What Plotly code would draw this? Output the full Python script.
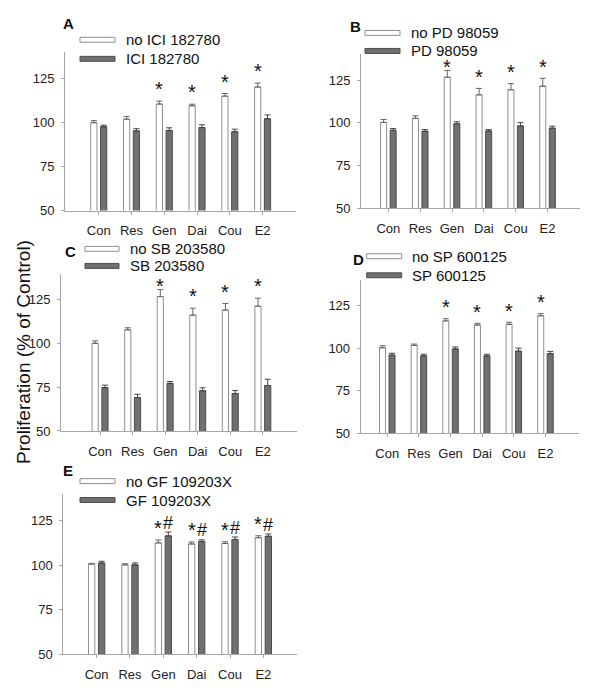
import plotly.graph_objects as go

categories = ["Con", "Res", "Gen", "Dai", "Cou", "E2"]
y_ticks = [50, 75, 100, 125]

# Panel A
A_labels = ["no ICI 182780", "ICI 182780"]
A_no = [100.0, 102.0, 110.6, 109.6, 115.1, 120.3]
A_no_err = [1.2, 1.5, 1.7, 0.9, 1.5, 2.2]
A_yes = [97.7, 95.3, 95.6, 97.2, 94.8, 102.2]
A_yes_err = [0.9, 1.3, 1.5, 1.6, 1.5, 2.2]

# Panel B
B_labels = ["no PD 98059", "PD 98059"]
B_no = [100.2, 102.6, 126.6, 116.3, 119.3, 121.4]
B_no_err = [1.7, 1.5, 4.0, 3.8, 3.6, 4.6]
B_yes = [95.6, 95.0, 99.4, 95.2, 98.1, 96.8]
B_yes_err = [1.0, 1.0, 1.2, 0.8, 2.0, 1.2]

# Panel C
C_labels = ["no SB 203580", "SB 203580"]
C_no = [100.1, 107.8, 126.8, 116.2, 119.1, 121.3]
C_no_err = [1.4, 1.2, 4.0, 4.0, 3.8, 4.6]
C_yes = [74.8, 69.1, 77.2, 73.0, 71.4, 76.0]
C_yes_err = [1.4, 1.9, 1.1, 1.7, 1.7, 3.6]

# Panel D
D_labels = ["no SP 600125", "SP 600125"]
D_no = [100.2, 101.6, 116.0, 113.6, 114.0, 119.0]
D_no_err = [1.2, 0.8, 1.3, 1.0, 1.2, 1.3]
D_yes = [95.9, 95.4, 99.5, 95.4, 98.2, 96.8]
D_yes_err = [1.1, 1.0, 1.2, 1.0, 1.8, 1.3]

# Panel E
E_labels = ["no GF 109203X", "GF 109203X"]
E_no = [100.6, 100.1, 112.4, 111.8, 112.1, 115.3]
E_no_err = [0.3, 0.6, 1.6, 1.1, 0.9, 1.1]
E_yes = [101.1, 100.1, 116.3, 113.2, 114.3, 116.1]
E_yes_err = [1.0, 1.1, 2.2, 0.9, 1.4, 1.3]

# significance markers (1 = marked)
sig_star = [0, 0, 1, 1, 1, 1]
sig_hash_E = [0, 0, 1, 1, 1, 1]

W, H = 600, 698
FONT = "Liberation Sans, Arial, sans-serif"
GRAY_FILL = "#707070"
GRAY_LINE = "#4d4d4d"
WHITE_LINE = "#8f8f8f"
AXIS_COL = "#a6a6a6"


def px_x(v):
    return v / W


def px_y(v):
    return 1 - v / H


# panel geometry in page pixels
panels = [
    dict(key="A", no=A_no, no_err=A_no_err, yes=A_yes, yes_err=A_yes_err, labels=A_labels,
         box=(65, 296, 53, 213), xr=(-1.03, 6.02),
         letter=(68, 24), sw=(80, 115, 40.2, 59.5), tx=124),
    dict(key="B", no=B_no, no_err=B_no_err, yes=B_yes, yes_err=B_yes_err, labels=B_labels,
         box=(361, 580, 55, 210.7), xr=(-0.86, 6.02),
         letter=(355, 26.5), sw=(365, 400, 33.3, 51.5), tx=409),
    dict(key="C", no=C_no, no_err=C_no_err, yes=C_yes, yes_err=C_yes_err, labels=C_labels,
         box=(61, 296.7, 276.7, 436), xr=(-1.2, 6.04),
         letter=(70.5, 254.5), sw=(85, 119, 251.7, 269), tx=128),
    dict(key="D", no=D_no, no_err=D_no_err, yes=D_yes, yes_err=D_yes_err, labels=D_labels,
         box=(360.7, 579, 283.3, 438.3), xr=(-0.84, 6.06),
         letter=(358, 263), sw=(366.7, 401.7, 259.2, 278.5), tx=410),
    dict(key="E", no=E_no, no_err=E_no_err, yes=E_yes, yes_err=E_yes_err, labels=E_labels,
         box=(63.3, 296.7, 499.3, 662), xr=(-1.0, 6.0),
         letter=(67.5, 476), sw=(80, 115, 486.7, 505.8), tx=124),
]

BW = 0.19
OFF_NO = -0.245
OFF_YES = 0.055

fig = go.Figure()
annotations = []
shapes = []
idx = list(range(len(categories)))

for n, p in enumerate(panels, start=1):
    xa = "x" if n == 1 else f"x{n}"
    ya = "y" if n == 1 else f"y{n}"
    fig.add_trace(go.Bar(
        x=idx, y=p["no"], width=BW, offset=OFF_NO, xaxis=xa, yaxis=ya,
        marker=dict(color="white", line=dict(color=WHITE_LINE, width=1)),
        error_y=dict(type="data", array=p["no_err"], arrayminus=[0] * 6, symmetric=False,
                     color="#666666", thickness=1, width=3),
        name=p["labels"][0], showlegend=False))
    fig.add_trace(go.Bar(
        x=idx, y=p["yes"], width=BW, offset=OFF_YES, xaxis=xa, yaxis=ya,
        marker=dict(color=GRAY_FILL, line=dict(color=GRAY_LINE, width=1)),
        error_y=dict(type="data", array=p["yes_err"], arrayminus=[0] * 6, symmetric=False,
                     color="#444444", thickness=1, width=3),
        name=p["labels"][1], showlegend=False))

    x0, x1, yt, yb = p["box"]
    axis_common = dict(showgrid=False, zeroline=False, showline=True, linecolor=AXIS_COL,
                       linewidth=1, ticks="outside", ticklen=3, tickcolor=AXIS_COL,
                       tickfont=dict(family=FONT, size=13, color="#222222"))
    fig.update_layout(**{
        ("xaxis" if n == 1 else f"xaxis{n}"): dict(
            domain=[px_x(x0), px_x(x1)], anchor=ya, range=list(p["xr"]),
            tickvals=idx, ticktext=categories, ticklabelstandoff=5, **axis_common),
        ("yaxis" if n == 1 else f"yaxis{n}"): dict(
            domain=[px_y(yb), px_y(yt)], anchor=xa, range=[50, 140],
            tickvals=y_ticks, ticklabelstandoff=4, **axis_common),
    })

    # significance markers
    for i in idx:
        if sig_star[i]:
            top = p["no"][i] + p["no_err"][i]
            annotations.append(dict(
                x=i + OFF_NO + BW / 2, y=min(top + 8.5, 134.6), xref=xa, yref=ya,
                text="*", showarrow=False, yshift=-3,
                font=dict(family=FONT, size=20, color="#111111")))
        if p["key"] == "E" and sig_hash_E[i]:
            top = p["yes"][i] + p["yes_err"][i]
            annotations.append(dict(
                x=i + OFF_YES + BW / 2, y=top + 8.6, xref=xa, yref=ya,
                text="#", showarrow=False, yshift=-6,
                font=dict(family=FONT, size=18, color="#111111")))

    # panel letter
    lx, ly = p["letter"]
    annotations.append(dict(x=px_x(lx), y=px_y(ly), xref="paper", yref="paper",
                            xanchor="center", yanchor="middle",
                            text=f"<b>{p['key']}</b>", showarrow=False,
                            font=dict(family=FONT, size=15, color="#111111")))
    # legend (drawn)
    sx0, sx1, sy1, sy2 = p["sw"]
    shapes.append(dict(type="rect", xref="paper", yref="paper",
                       x0=px_x(sx0), x1=px_x(sx1), y0=px_y(sy1 + 2.5), y1=px_y(sy1 - 2.5),
                       fillcolor="white", line=dict(color=WHITE_LINE, width=1)))
    shapes.append(dict(type="rect", xref="paper", yref="paper",
                       x0=px_x(sx0), x1=px_x(sx1), y0=px_y(sy2 + 2.5), y1=px_y(sy2 - 2.5),
                       fillcolor=GRAY_FILL, line=dict(color=GRAY_LINE, width=1)))
    for lab, sy in zip(p["labels"], (sy1, sy2)):
        annotations.append(dict(x=px_x(p["tx"]), y=px_y(sy), xref="paper", yref="paper",
                                text=lab, showarrow=False, xanchor="left", yanchor="middle",
                                font=dict(family=FONT, size=15, color="#111111")))

# shared y-axis title
annotations.append(dict(x=px_x(24), y=px_y(356), xref="paper", yref="paper",
                        xanchor="center", yanchor="middle",
                        text="Proliferation (% of Control)", textangle=-90, showarrow=False,
                        font=dict(family=FONT, size=19, color="#111111")))

fig.update_layout(
    width=W, height=H, margin=dict(l=0, r=0, t=0, b=0),
    paper_bgcolor="white", plot_bgcolor="white", barmode="overlay",
    annotations=annotations, shapes=shapes,
    font=dict(family=FONT),
)

fig.write_html("out.html", config={"displayModeBar": False},
               post_script="document.body.style.margin='0';")
